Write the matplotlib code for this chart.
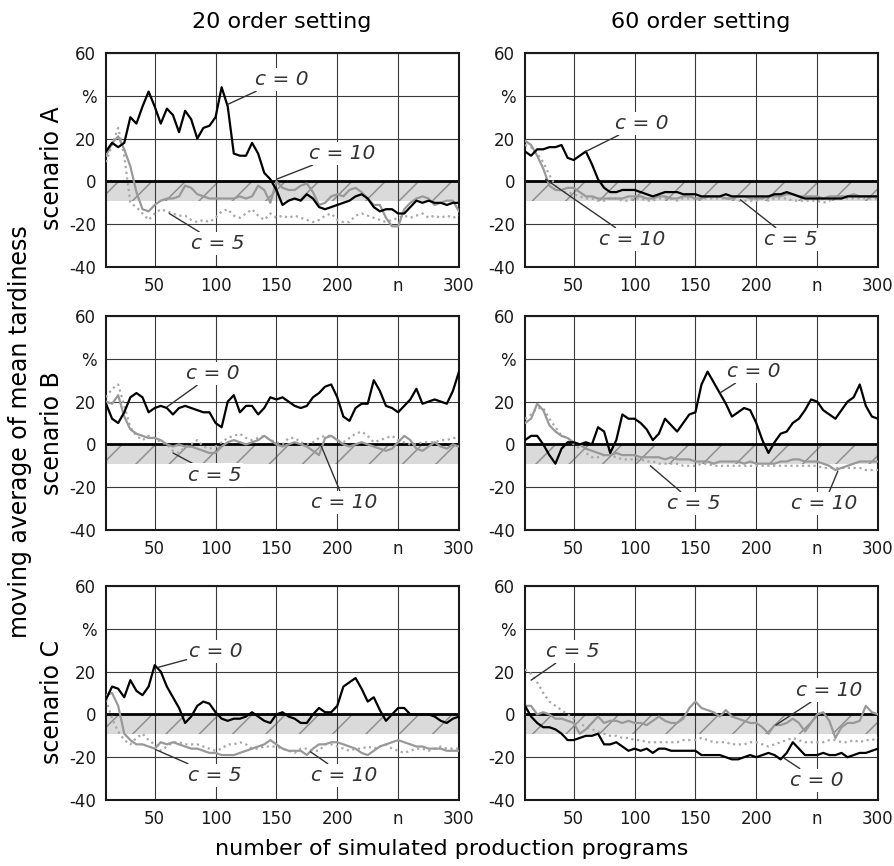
import numpy as np
import matplotlib
matplotlib.use('Agg')
import matplotlib.pyplot as plt

# x positions: number of simulated production programs
n = np.arange(10, 301, 5)

# ---- scenario A ----
a20_c0 = [14, 18, 16, 18, 30, 27, 35, 42, 35, 27,
          34, 31, 23, 33, 29, 20, 25, 26, 30, 44,
          35, 13, 12, 12, 18, 13, 4, 1, -4, -11,
          -9, -8, -9, -6, -8, -12, -13, -12, -11, -10,
          -9, -7, -6, -8, -12, -14, -13, -13, -15, -15,
          -12, -9, -10, -9, -10, -10, -11, -10, -10]
a20_c10 = [12, 18, 21, 15, 7, -5, -13, -14, -11, -9,
           -8, -8, -7, -2, -3, -6, -7, -8, -8, -8,
           -8, -8, -7, -8, -7, -2, -4, -10, 0, -3,
           -4, -4, -2, -1, -5, -11, -10, -7, -6, -7,
           -4, -3, -5, -8, -11, -11, -17, -21, -21, -13,
           -10, -8, -7, -8, -11, -10, -9, -9, -14]
a20_c5 = [9, 17, 25, 12, -10, -12, -15, -18, -15, -13,
          -14, -15, -16, -16, -18, -19, -18, -19, -17, -14,
          -13, -16, -17, -15, -13, -16, -18, -15, -17, -16,
          -17, -16, -17, -18, -19, -18, -16, -15, -18, -19,
          -19, -16, -15, -16, -17, -18, -19, -18, -17, -16,
          -17, -16, -15, -17, -16, -17, -16, -17, -16]
a60_c0 = [14, 12, 15, 15, 16, 16, 17, 11, 10, 12,
          14, 8, 1, -3, -5, -5, -4, -4, -4, -5,
          -6, -7, -6, -5, -5, -5, -6, -6, -6, -7,
          -7, -7, -7, -6, -7, -7, -7, -7, -7, -7,
          -7, -6, -6, -5, -6, -7, -8, -8, -8, -8,
          -8, -8, -8, -7, -7, -7, -7, -7, -7]
a60_c10 = [19, 17, 12, 6, -2, -4, -4, -3, -3, -5,
           -7, -7, -8, -8, -8, -8, -8, -7, -7, -7,
           -8, -8, -7, -7, -8, -8, -7, -7, -8, -8,
           -7, -7, -7, -8, -8, -7, -7, -8, -8, -8,
           -7, -7, -7, -6, -6, -7, -7, -7, -7, -8,
           -7, -7, -7, -7, -6, -7, -7, -7, -7]
a60_c5 = [17, 16, 13, 9, 3, -2, -5, -5, -6, -7,
          -8, -8, -9, -9, -8, -8, -9, -9, -8, -8,
          -9, -9, -8, -8, -8, -9, -8, -8, -8, -8,
          -8, -8, -8, -8, -8, -9, -9, -9, -9, -8,
          -9, -8, -8, -8, -9, -9, -9, -9, -9, -10,
          -9, -8, -8, -8, -8, -8, -8, -8, -8]

# ---- scenario B ----
b20_c0 = [19, 12, 10, 15, 22, 24, 22, 15, 17, 18,
          17, 14, 17, 18, 17, 16, 15, 15, 10, 8,
          20, 23, 15, 18, 18, 14, 17, 22, 21, 22,
          20, 18, 17, 18, 22, 24, 27, 28, 22, 13,
          11, 17, 19, 19, 30, 25, 18, 17, 15, 18,
          21, 26, 19, 20, 21, 20, 19, 25, 34]
b20_c10 = [20, 19, 23, 13, 7, 5, 4, 3, 3, 2,
           0, -1, 0, -1, -1, -2, -3, -4, -4, -1,
           1, 2, 1, 0, 1, 2, 4, 2, 0, -1,
           0, 1, 0, -1, -3, -5, 3, 4, 2, 0,
           -1, 0, 1, 0, -1, -2, -3, -2, 1, 4,
           2, -2, -3, -1, 1, -1, -2, 0, -1]
b20_c5 = [22, 26, 28, 18, 8, 4, 2, 4, 3, 1,
          0, -3, -4, -1, 0, 2, -1, -2, -1, 1,
          3, 4, 5, 3, 2, 3, 4, 2, 1, 0,
          3, 3, 1, 0, 1, 3, 4, 4, 2, 1,
          3, 5, 6, 4, 1, 2, 3, 4, 2, 1,
          0, 0, 1, 1, 1, 2, 2, 3, 3]
b60_c0 = [2, 4, 4, 0, -5, -9, -2, 1, 1, 0,
          1, 0, 8, 6, -4, 2, 14, 12, 12, 10,
          7, 2, 5, 12, 9, 6, 10, 14, 15, 28,
          34, 29, 24, 19, 13, 15, 17, 16, 10, 2,
          -4, 1, 5, 6, 10, 12, 16, 21, 20, 16,
          14, 12, 16, 20, 22, 28, 18, 13, 12]
b60_c10 = [10, 12, 19, 16, 9, 6, 4, 3, 1, 0,
           -2, -3, -4, -5, -5, -4, -5, -5, -5, -6,
           -6, -6, -6, -7, -6, -7, -7, -7, -8, -8,
           -8, -9, -8, -8, -8, -8, -9, -8, -9, -9,
           -9, -9, -8, -8, -7, -7, -8, -8, -8, -9,
           -10, -12, -11, -10, -9, -8, -8, -8, -8]
b60_c5 = [12, 14, 17, 17, 12, 8, 4, 3, 0, -2,
          -4, -6, -6, -5, -5, -6, -7, -7, -7, -7,
          -8, -8, -9, -9, -9, -9, -10, -10, -10, -9,
          -9, -10, -10, -10, -10, -10, -10, -10, -10, -10,
          -10, -10, -10, -10, -10, -10, -10, -10, -10, -11,
          -11, -11, -11, -11, -11, -11, -12, -12, -12]

# ---- scenario C ----
c20_c0 = [7, 13, 12, 8, 16, 11, 9, 13, 23, 20,
          13, 8, 3, -4, -1, 4, 6, 5, 1, -2,
          -3, -2, -2, -1, 1, -1, -3, -4, 0, 1,
          -1, -2, -4, -4, 0, 3, 1, 1, 4, 13,
          15, 17, 12, 6, 8, 2, -3, 0, 3, 3,
          0, 0, 0, 0, -1, -3, -4, -2, -1]
c20_c10 = [9, 10, 4, -9, -12, -14, -14, -15, -16, -13,
           -14, -13, -14, -15, -16, -16, -17, -18, -18, -19,
           -19, -19, -18, -17, -16, -15, -14, -12, -14, -16,
           -17, -17, -17, -19, -16, -14, -14, -13, -13, -14,
           -15, -16, -18, -19, -17, -15, -14, -13, -12, -13,
           -14, -15, -15, -16, -16, -16, -17, -17, -17]
c20_c5 = [7, -2, -8, -12, -14, -11, -9, -12, -14, -17,
          -15, -13, -13, -14, -14, -14, -15, -16, -17, -16,
          -14, -14, -13, -14, -16, -16, -15, -15, -15, -16,
          -17, -18, -16, -16, -17, -17, -14, -14, -15, -16,
          -17, -16, -16, -15, -16, -15, -14, -16, -17, -18,
          -17, -16, -16, -17, -16, -15, -16, -16, -16]
c60_c0 = [4, -1, -4, -6, -6, -7, -9, -12, -12, -11,
          -10, -10, -9, -14, -14, -13, -15, -17, -16, -17,
          -16, -18, -16, -16, -17, -17, -17, -17, -17, -19,
          -19, -19, -19, -20, -21, -21, -20, -19, -20, -19,
          -18, -19, -21, -18, -13, -16, -19, -19, -19, -18,
          -19, -19, -18, -20, -19, -18, -18, -17, -16]
c60_c10 = [4, 4, 0, 1, 0, -2, -2, -3, -4, -9,
           -7, -4, -1, -4, -3, -3, -4, -3, -4, -4,
           -5, -3, -1, -3, -4, -4, -2, 3, 6, 3,
           2, 1, -1, 2, -1, -2, -3, -4, -4, -6,
           -9, -5, -5, -4, -2, -4, -8, -4, 0, 1,
           -3, -11, -6, -4, -4, -3, 4, 1, 0]
c60_c5 = [21, 19, 15, 10, 6, 4, 2, 0, -2, -4,
          -6, -7, -8, -9, -10, -10, -11, -11, -12, -12,
          -13, -13, -13, -13, -13, -13, -12, -12, -12, -11,
          -12, -13, -13, -13, -14, -14, -14, -13, -13, -14,
          -15, -14, -13, -12, -11, -12, -13, -13, -13, -13,
          -12, -12, -13, -13, -12, -13, -12, -12, -11]

band_low = -9
x_ticks = [50, 100, 150, 200, 250, 300]
x_labels = ['50', '100', '150', '200', 'n', '300']
y_ticks = [-40, -20, 0, 20, 40, 60]
y_labels = ['-40', '-20', '0', '20', '%', '60']
col_titles = ['20 order setting', '60 order setting']
row_titles = ['scenario A', 'scenario B', 'scenario C']

plt.rcParams['hatch.linewidth'] = 1.1

fig = plt.figure(figsize=(8.95, 8.66), dpi=100)
W, H = 895.0, 866.0
lefts = [106 / W, 525 / W]
tops = [53, 316, 586]
aw, ah = 353 / W, 214 / H

panels = [
    [(a20_c0, a20_c10, a20_c5), (a60_c0, a60_c10, a60_c5)],
    [(b20_c0, b20_c10, b20_c5), (b60_c0, b60_c10, b60_c5)],
    [(c20_c0, c20_c10, c20_c5), (c60_c0, c60_c10, c60_c5)],
]

# label text position -> point on curve
notes = [
    [[('c = 0', (154, 47.5), (110, 36)), ('c = 10', (204, 13), (150, 1)), ('c = 5', (102, -29), (62, -15))],
     [('c = 0', (106, 27), (60, 14)), ('c = 10', (98, -27), (27, 1)), ('c = 5', (228, -27), (187, -8.6))]],
    [[('c = 0', (98, 33), (60, 17.5)), ('c = 5', (99, -14.3), (65, -4)), ('c = 10', (206, -27), (187, -1))],
     [('c = 0', (198, 34), (170, 24)), ('c = 5', (149, -27.5), (113, -10)), ('c = 10', (256, -27.5), (267, -12.5))]],
    [[('c = 0', (100, 29.3), (53, 22)), ('c = 5', (99, -28.4), (51, -16.5)), ('c = 10', (206, -28.4), (178, -17.5))],
     [('c = 5', (49, 29.3), (15, 16)), ('c = 10', (260, 11.4), (216, -5)), ('c = 0', (250, -30.7), (223, -20.5))]],
]

for r in range(3):
    for c in range(2):
        ax = fig.add_axes([lefts[c], 1 - (tops[r] + 214) / H, aw, ah])
        c0, c10, c5 = panels[r][c]
        ax.set_xlim(10, 300)
        ax.set_ylim(-40, 60)
        ax.fill_between([10, 300], band_low, 0, facecolor='#dadada',
                        edgecolor='#8f8f8f', hatch='/', linewidth=0, zorder=0.2)
        ax.set_axisbelow(True)
        ax.grid(True, color='#3a3a3a', linewidth=0.8)
        ax.axhline(0, color='black', linewidth=2.0, zorder=2.5)
        ax.plot(n, c5, color='#a8a8a8', linestyle=(0, (1, 1.6)), linewidth=1.6, zorder=3)
        ax.plot(n, c10, color='#999999', linewidth=1.6, zorder=3.2)
        ax.plot(n, c0, color='black', linewidth=1.6, zorder=3.5)
        ax.set_xticks(x_ticks)
        ax.set_xticklabels(x_labels)
        ax.set_yticks(y_ticks)
        ax.set_yticklabels(y_labels)
        ax.tick_params(length=0, labelsize=12, pad=7, colors='#1a1a1a')
        for s in ax.spines.values():
            s.set_linewidth(1.5)
            s.set_color('#1a1a1a')
        for txt, tpos, pt in notes[r][c]:
            ax.annotate(txt, xy=pt, xytext=tpos, fontsize=14.5, style='italic',
                        color='#333333', ha='center', va='center', zorder=6,
                        bbox=dict(boxstyle='square,pad=0.1', fc='white', ec='none'),
                        arrowprops=dict(arrowstyle='-', color='#333333', lw=1.0,
                                        shrinkA=0, shrinkB=0))

fig.text(282 / W, 1 - 22 / H, col_titles[0], ha='center', va='center', fontsize=16)
fig.text(701 / W, 1 - 22 / H, col_titles[1], ha='center', va='center', fontsize=16)
for r, yc in enumerate([168, 433, 702]):
    fig.text(52 / W, 1 - yc / H, row_titles[r], rotation=90, ha='center', va='center', fontsize=17)
fig.text(20 / W, 1 - 432 / H, 'moving average of mean tardiness', rotation=90,
         ha='center', va='center', fontsize=17)
fig.text(452 / W, 1 - 849 / H, 'number of simulated production programs',
         ha='center', va='center', fontsize=16)

fig.savefig('out.png', dpi=100)
